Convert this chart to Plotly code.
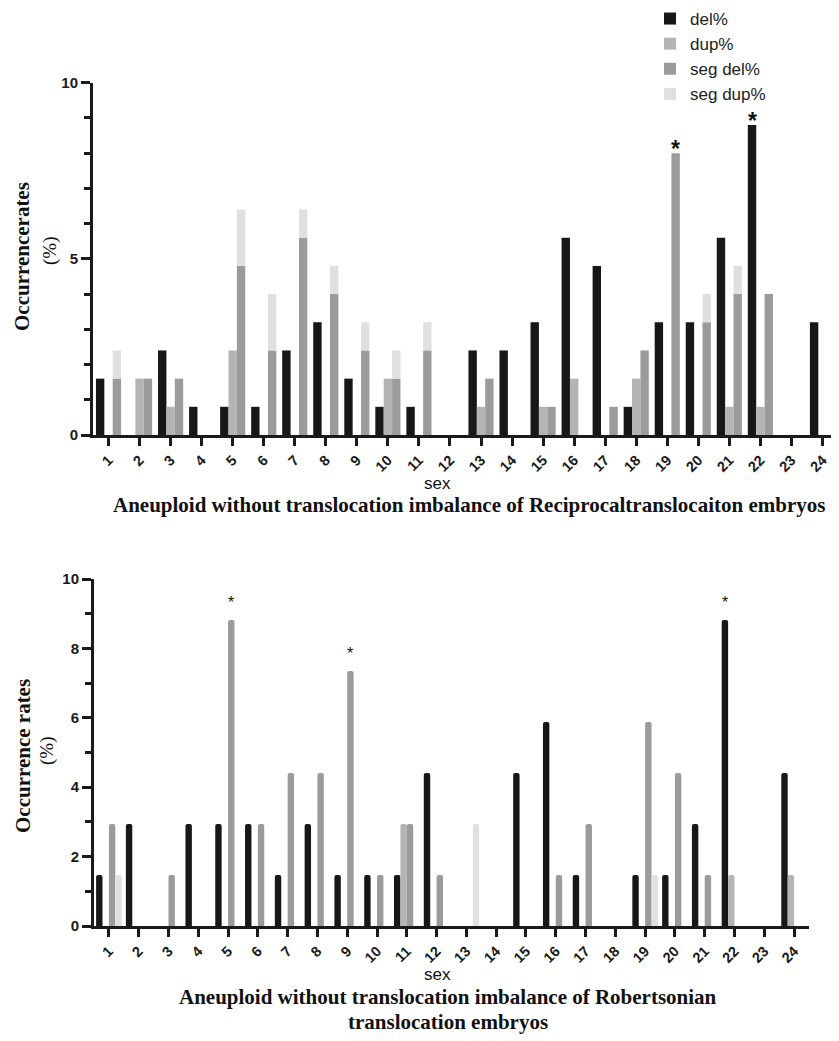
import plotly.graph_objects as go

# ---------------- data ----------------
chromosomes = list(range(1, 25))
tick_labels = [str(c) for c in chromosomes]
series_names = ["del%", "dup%", "seg del%", "seg dup%"]

# Reciprocal translocation embryos (top panel)
recip_del = [1.6, 0, 2.4, 0.8, 0.8, 0.8, 2.4, 3.2, 1.6, 0.8, 0.8, 0, 2.4, 2.4, 3.2, 5.6, 4.8, 0.8, 3.2, 3.2, 5.6, 8.8, 0, 3.2]
recip_dup = [0, 1.6, 0.8, 0, 2.4, 0, 0, 0, 0, 1.6, 0, 0, 0.8, 0, 0.8, 1.6, 0, 1.6, 0, 0, 0.8, 0.8, 0, 0]
recip_segdel = [1.6, 1.6, 1.6, 0, 4.8, 2.4, 5.6, 4.0, 2.4, 1.6, 2.4, 0, 1.6, 0, 0.8, 0, 0.8, 2.4, 8.0, 3.2, 4.0, 4.0, 0, 0]
recip_segdup = [0.8, 0, 0, 0, 1.6, 1.6, 0.8, 0.8, 0.8, 0.8, 0.8, 0, 0, 0, 0, 0, 0, 0, 0, 0.8, 0.8, 0, 0, 0]
recip_stars = [(19, "seg del%"), (22, "del%")]

# Robertsonian translocation embryos (bottom panel)
robert_del = [1.47, 2.94, 0, 2.94, 2.94, 2.94, 1.47, 2.94, 1.47, 1.47, 1.47, 4.41, 0, 0, 4.41, 5.88, 1.47, 0, 1.47, 1.47, 2.94, 8.82, 0, 4.41]
robert_dup = [0, 0, 0, 0, 0, 0, 0, 0, 0, 0, 2.94, 0, 0, 0, 0, 0, 0, 0, 0, 0, 0, 1.47, 0, 1.47]
robert_segdel = [2.94, 0, 1.47, 0, 8.82, 2.94, 4.41, 4.41, 7.35, 1.47, 2.94, 1.47, 0, 0, 0, 1.47, 2.94, 0, 5.88, 4.41, 1.47, 0, 0, 0]
robert_segdup = [1.47, 0, 0, 0, 0, 0, 0, 0, 0, 0, 0, 0, 2.94, 0, 0, 0, 0, 0, 1.47, 0, 0, 0, 0, 0]
robert_stars = [(5, "seg del%"), (9, "seg del%"), (22, "del%")]

# ---------------- style ----------------
colors = {"del%": "#171717", "dup%": "#b4b4b4", "seg del%": "#9b9b9b", "seg dup%": "#e0e0e0"}
PAGE_MARGIN = 8          # default body margin of the html page
W, H = 839 - PAGE_MARGIN, 1041 - PAGE_MARGIN
AX = "#1a1a1a"
SANS = "Liberation Sans, Arial, sans-serif"
SERIF = "Liberation Serif, Times New Roman, serif"


def px(x):
    """screen x (pixels) -> paper fraction"""
    return (x - PAGE_MARGIN) / W


def py(y):
    """screen y (pixels from top) -> paper fraction"""
    return 1 - (y - PAGE_MARGIN) / H


fig = go.Figure()

# top panel: 3 slots, seg dup stacked on seg del
top_w = 0.27
top_off = {"del%": -0.405, "dup%": -0.135, "seg del%": 0.135, "seg dup%": 0.135}
top_vals = {"del%": recip_del, "dup%": recip_dup, "seg del%": recip_segdel, "seg dup%": recip_segdup}
for name in series_names:
    kw = {}
    if name == "seg dup%":
        kw["base"] = recip_segdel
    fig.add_trace(go.Bar(
        x=chromosomes, y=top_vals[name], name=name, xaxis="x", yaxis="y",
        width=top_w, offset=top_off[name], marker=dict(color=colors[name], line=dict(width=0)),
        showlegend=True, **kw))

# bottom panel: 4 slots
bot_w = 0.215
bot_off = {"del%": -0.43, "dup%": -0.215, "seg del%": 0.0, "seg dup%": 0.215}
bot_vals = {"del%": robert_del, "dup%": robert_dup, "seg del%": robert_segdel, "seg dup%": robert_segdup}
for name in series_names:
    fig.add_trace(go.Bar(
        x=chromosomes, y=bot_vals[name], name=name, xaxis="x2", yaxis="y2",
        width=bot_w, offset=bot_off[name],
        marker=dict(color=colors[name], line=dict(width=0), cornerradius=2),
        showlegend=False))

annotations = []
for chrom, name in recip_stars:
    i = chromosomes.index(chrom)
    annotations.append(dict(x=chrom + top_off[name] + top_w / 2, y=top_vals[name][i], xref="x", yref="y",
                            text="<b>*</b>", showarrow=False, yanchor="top", yshift=19,
                            font=dict(family=SANS, size=23, color="#111")))
for chrom, name in robert_stars:
    i = chromosomes.index(chrom)
    annotations.append(dict(x=chrom + bot_off[name] + bot_w / 2, y=bot_vals[name][i], xref="x2", yref="y2",
                            text="*", showarrow=False, yanchor="middle", yshift=17,
                            font=dict(family=SANS, size=16, color="#111")))


def add_text(text, x, y, size, family, angle=0, color="#111"):
    annotations.append(dict(text=text, x=px(x), y=py(y), xref="paper", yref="paper",
                            showarrow=False, textangle=angle, xanchor="center", yanchor="middle",
                            font=dict(family=family, size=size, color=color)))


add_text("<b>Occurrencerates</b>", 22, 257, 21, SERIF, -90)
add_text("(%)", 50, 251, 19, SERIF, -90)
add_text("sex", 437, 483, 17, SANS)
add_text("<b>Aneuploid without translocation imbalance of Reciprocaltranslocaiton embryos</b>", 469, 505, 21, SERIF)

add_text("<b>Occurrence rates</b>", 23, 756, 21, SERIF, -90)
add_text("(%)", 47, 751, 19, SERIF, -90)
add_text("sex", 437, 974, 17, SANS)
add_text("<b>Aneuploid without translocation imbalance of Robertsonian</b>", 448, 997, 21, SERIF)
add_text("<b>translocation embryos</b>", 448, 1022, 21, SERIF)

common_x = dict(range=[0.5, 24.5], tickmode="array", tickvals=chromosomes, ticktext=tick_labels,
                tickangle=-45, tickfont=dict(family=SANS, size=14.5, color=AX, weight="bold"),
                ticks="outside", ticklen=8, tickwidth=3, tickcolor=AX,
                showline=True, linewidth=3, linecolor=AX, showgrid=False, zeroline=False,
                automargin=False, fixedrange=True)
common_y = dict(range=[0, 10], tickfont=dict(family=SANS, size=15, color=AX, weight="bold"),
                ticks="outside", ticklen=9, tickwidth=3, tickcolor=AX,
                showline=True, linewidth=3, linecolor=AX, showgrid=False, zeroline=False,
                automargin=False, fixedrange=True)
minor_y = dict(tickmode="array", tickvals=list(range(0, 11)), ticks="outside", ticklen=6, tickwidth=3,
               tickcolor=AX, showgrid=False)

fig.update_layout(
    width=W, height=H,
    margin=dict(l=0, r=0, t=0, b=0, autoexpand=False),
    paper_bgcolor="white", plot_bgcolor="white",
    barmode="overlay",
    xaxis=dict(domain=[px(93), px(838)], anchor="y", **common_x),
    yaxis=dict(domain=[py(435), py(82.7)], anchor="x", tickmode="array", tickvals=[0, 5, 10],
               minor=minor_y, **common_y),
    xaxis2=dict(domain=[px(94), px(809)], anchor="y2", **common_x),
    yaxis2=dict(domain=[py(926), py(579)], anchor="x2", tickmode="array", tickvals=[0, 2, 4, 6, 8, 10],
                minor=minor_y, **common_y),
    legend=dict(x=px(650), y=1 + 7 / H, xanchor="left", yanchor="top", bgcolor="rgba(0,0,0,0)",
                font=dict(family=SANS, size=17, color="#222"), itemwidth=30, tracegroupgap=0),
    annotations=annotations,
    showlegend=True,
)

fig.write_html("out.html")
